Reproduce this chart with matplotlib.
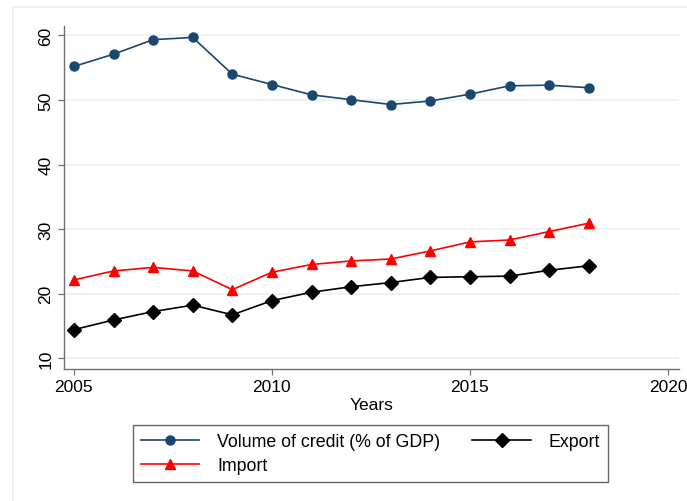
#! /usr/bin/env python3
"""
Credit volume, export and import as % of GDP, 2005-2018
"""

import matplotlib
matplotlib.use('Agg')
import matplotlib.pyplot as plt
from matplotlib.patches import Rectangle

years = [2005, 2006, 2007, 2008, 2009, 2010, 2011,
         2012, 2013, 2014, 2015, 2016, 2017, 2018]
credit = [55.2, 57.1, 59.35, 59.7, 54.0, 52.4, 50.8,
          50.05, 49.3, 49.85, 50.9, 52.2, 52.3, 51.9]
export = [14.4, 15.9, 17.2, 18.2, 16.7, 18.9, 20.2,
          21.05, 21.7, 22.5, 22.6, 22.7, 23.6, 24.3]
imports = [22.1, 23.5, 24.05, 23.5, 20.6, 23.3, 24.5,
           25.05, 25.35, 26.6, 28.0, 28.3, 29.6, 30.9]
xticks = [2005, 2010, 2015, 2020]
yticks = [10, 20, 30, 40, 50, 60]


def main():
    plt.rcParams['font.family'] = ['Liberation Sans', 'DejaVu Sans']
    fig = plt.figure(figsize=(6.87, 5.02), dpi=100)
    # light outer border of the graph region
    fig.patches.append(Rectangle(
        (13 / 687, -0.05), 1.2, 1 - 8 / 502 + 0.05,
        transform=fig.transFigure, fill=False,
        edgecolor='#e8eff2', linewidth=1.2
    ))
    ax = fig.add_axes([64 / 687, 132 / 502, 615 / 687, 343 / 502])

    navy = '#1a476f'
    h1, = ax.plot(years, credit, color=navy, lw=1.2, marker='o', ms=6.5,
                  label='Volume of credit (% of GDP)')
    h2, = ax.plot(years, imports, color='red', lw=1.2, marker='^', ms=7.5,
                  label='Import')
    h3, = ax.plot(years, export, color='black', lw=1.2, marker='D', ms=7.5,
                  label='Export')

    ax.set_xlim(2004.75, 2020.28)
    ax.set_ylim(8.3, 61.47)
    ax.set_xticks(xticks)
    ax.set_yticks(yticks)
    ax.grid(axis='y', color='#eaf2f3', lw=1.3)
    ax.set_axisbelow(True)
    for side in ('top', 'right'):
        ax.spines[side].set_visible(False)
    for side in ('left', 'bottom'):
        ax.spines[side].set_color('#707070')
        ax.spines[side].set_linewidth(1.0)
    ax.tick_params(direction='out', length=4.5, width=0.9,
                   color='#707070', labelsize=12.5, pad=3)
    for lab in ax.get_yticklabels():
        lab.set_rotation(90)
        lab.set_va('center')
    ax.set_xlabel('Years', fontsize=12.5, labelpad=2)

    leg = fig.legend(
        handles=[h1, h2, h3], ncol=2, loc='center',
        bbox_to_anchor=(370.5 / 687, 1 - 454.5 / 502),
        fontsize=12.8, frameon=True, fancybox=False,
        handlelength=3.3, handletextpad=1.0, columnspacing=1.8,
        borderpad=0.45, labelspacing=0.38, borderaxespad=0
    )
    leg.get_frame().set_edgecolor('#404040')
    leg.get_frame().set_linewidth(1.0)

    fig.savefig('out.png', dpi=100)


if __name__ == '__main__':
    main()
